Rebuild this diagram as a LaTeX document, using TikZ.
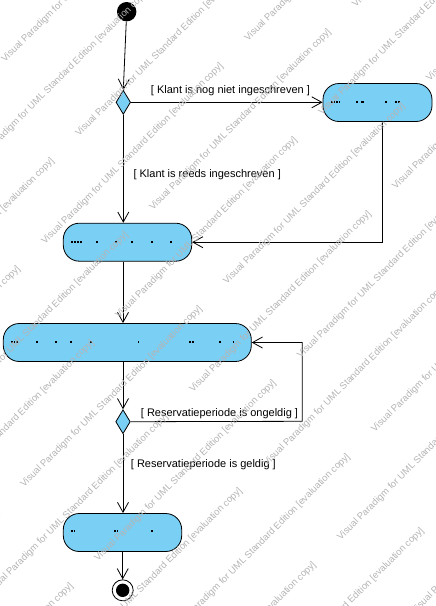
\documentclass[tikz,border=0pt]{standalone}
\usepackage{fontspec}
\setmainfont{Liberation Sans}
\usetikzlibrary{shapes.geometric,arrows.meta}
\definecolor{actfill}{RGB}{122,207,245}
\definecolor{wmgray}{RGB}{180,180,180}
\tikzset{
  act/.style={draw=black, line width=0.8pt, fill=actfill, rounded corners=16pt, minimum height=38pt, inner sep=0pt},
  dec/.style={draw=black, line width=0.8pt, fill=actfill, shape=diamond, minimum width=14.6pt, minimum height=24pt, inner sep=0pt, aspect=0.6},
  arr/.style={line width=0.8pt, -{Straight Barb[length=10pt,width=11pt,line width=0.8pt]}},
  guard/.style={inner sep=0pt, anchor=base west, font=\fontsize{11}{13}\selectfont},
  wm/.style={inner sep=0pt, anchor=base west, rotate=45, text=wmgray, font=\fontsize{9.5}{11}\selectfont},
}
\begin{document}
\begin{tikzpicture}[x=1pt,y=-1pt]
\useasboundingbox (0,0) rectangle (436,606);
% nodes
\node[circle, fill=black, minimum size=19.4pt, inner sep=0pt] (init) at (126.7,11.7) {};
\node[dec] (d1) at (123.3,102.3) {};
\node[act, minimum width=109pt] (a2) at (377.5,102.5) {};
\node[act, minimum width=128.4pt] (a3) at (127.5,242.2) {};
\node[act, minimum width=248pt] (a4) at (127.3,342.5) {};
\node[dec] (d2) at (123,421.7) {};
\node[act, minimum width=118.4pt] (a5) at (122.5,532.5) {};
\node[circle, draw=black, line width=0.8pt, fill=white, minimum size=21pt, inner sep=0pt] (fin) at (122.7,590.3) {};
\fill[black] (fin.center) circle (6.7pt);
\coordinate (lp) at (302.3,421.3);
\coordinate (rp) at (382.3,0);
% connectors
\draw[arr] (init) -- (d1.north);
\draw[arr] (d1.east) -- (a2.west |- d1.east);
\draw[arr] (d1.south) -- (d1.south |- a3.north);
\draw[arr] (rp |- a2.south) |- (a3.east);
\draw[arr] (a3.south -| d2.north) -- (a4.north -| d2.north);
\draw[arr] (a4.south -| d2.north) -- (d2.north);
\draw[arr] (d2.east) -- (lp) -- (lp |- a4.east) -- (a4.east);
\draw[arr] (d2.south) -- (a5.north -| d2.south);
\draw[arr] (a5.south -| fin.north) -- (fin.north);
% guards
\node[guard] (g1) at (150.7,93) {[ Klant is nog niet ingeschreven ]};
\node[guard] (g2) at (133.3,177) {[ Klant is reeds ingeschreven ]};
\node[guard] (g3) at (140.7,416) {[ Reservatieperiode is ongeldig ]};
\node[guard] (g4) at (130.7,467.3) {[ Reservatieperiode is geldig ]};
% garbled action texts (dots)
\foreach \px/\py in {332/102,334.5/102,337/102,339.5/102,356.7/102,362/102,363.5/102,386/102,396/102,399/102,
  72/242,75/242,78/242,81/242,96.7/242,116/242,131.7/242,151.7/242,171/242,
  12/342,14.5/342,17/342,36.7/342,56/342,70.7/342,90.7/342,138.3/342,190/342,193/342,220/342,233.3/342,
  72/531,74.5/531,115/531,117.5/531,151.7/531}
  \fill[black] (\px-0.8,\py-0.8) rectangle (\px+0.8,\py+0.8);
% watermark
\begin{scope}
\clip (0,0) rectangle (436,606);
\foreach \j in {0,...,15} {
  \foreach \m in {-2,...,1} {
    \pgfmathsetmacro\vv{48+52.3*(\j-2)}
    \pgfmathsetmacro\uu{ifthenelse(mod(\j,2)==0,-41,-141.3)+287*\m}
    \pgfmathsetmacro\xx{(\uu+\vv)/1.41421}
    \pgfmathsetmacro\yy{(\vv-\uu)/1.41421}
    \node[wm] (wm-\j-\m) at (\xx,\yy) {Visual Paradigm for UML Standard Edition [evaluation copy]};
  }
}
\end{scope}
\end{tikzpicture}
\end{document}
